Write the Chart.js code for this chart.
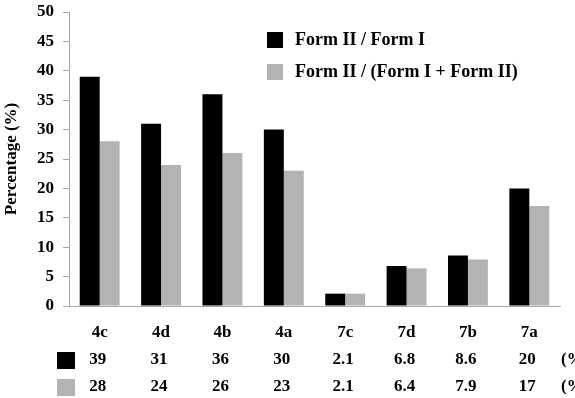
<!DOCTYPE html>
<html>
<head>
<meta charset="utf-8">
<script src="https://cdn.jsdelivr.net/npm/chart.js@4"></script>
<style>
  html, body { margin: 0; padding: 0; background: #fff; }
  #wrap { width: 575px; height: 398px; }
</style>
</head>
<body>
<div id="wrap"><canvas id="cv" width="575" height="398"></canvas></div>
<script>
// chart values
const categories = ['4c', '4d', '4b', '4a', '7c', '7d', '7b', '7a'];
const ratioI = [39, 31, 36, 30, 2.1, 6.8, 8.6, 20];       // Form II / Form I
const ratioTotal = [28, 24, 26, 23, 2.1, 6.4, 7.9, 17];   // Form II / (Form I + Form II)
const seriesNames = ['Form II / Form I', 'Form II / (Form I + Form II)'];
const yTicks = [0, 5, 10, 15, 20, 25, 30, 35, 40, 45, 50];

const FONT = '"Liberation Serif", "Times New Roman", serif';
const black = '#000000';
const grey = '#b3b3b3';
const axisGrey = '#a6a6a6';

// legend drawn inside the plot, top right
const legendPlugin = {
  id: 'boxLegend',
  afterDraw(chart) {
    const ctx = chart.ctx;
    const cols = [black, grey];
    ctx.save();
    ctx.font = 'bold 18px ' + FONT;
    ctx.textBaseline = 'middle';
    ctx.textAlign = 'left';
    for (let i = 0; i < seriesNames.length; i++) {
      const y = 40 + i * 32;
      ctx.fillStyle = cols[i];
      ctx.fillRect(267, y - 8, 16, 16);
      ctx.fillStyle = '#000';
      ctx.fillText(seriesNames[i], 295, y);
    }
    ctx.restore();
  }
};

// data table under the axis
const tablePlugin = {
  id: 'dataTable',
  afterDraw(chart) {
    const ctx = chart.ctx;
    const x = chart.scales.x;
    const rows = [ratioI, ratioTotal];
    const cols = [black, grey];
    ctx.save();
    ctx.font = 'bold 17px ' + FONT;
    ctx.textBaseline = 'middle';
    for (let r = 0; r < rows.length; r++) {
      const y = 360 + r * 27;
      ctx.fillStyle = cols[r];
      ctx.fillRect(57, y - 8, 18, 17);
      ctx.fillStyle = '#000';
      ctx.textAlign = 'center';
      rows[r].forEach((v, i) => {
        ctx.fillText(String(v), x.getPixelForValue(i) - 2, y);
      });
      ctx.textAlign = 'left';
      ctx.fillText('(%)', 561, y);
    }
    ctx.restore();
  }
};

new Chart(document.getElementById('cv'), {
  type: 'bar',
  data: {
    labels: categories,
    datasets: [{
      label: seriesNames[0],
      data: ratioI,
      backgroundColor: black,
      borderColor: black,
      borderWidth: 0,
      categoryPercentage: 0.65,
      barPercentage: 1.0
    }, {
      label: seriesNames[1],
      data: ratioTotal,
      backgroundColor: grey,
      borderWidth: 0,
      categoryPercentage: 0.65,
      barPercentage: 1.0
    }]
  },
  options: {
    responsive: false,
    animation: false,
    layout: { padding: { top: 12, right: 15, left: 0, bottom: 0 } },
    plugins: {
      legend: { display: false },
      tooltip: { enabled: false }
    },
    scales: {
      x: {
        grid: { drawOnChartArea: false, drawTicks: false },
        border: { display: true, color: axisGrey, width: 1 },
        ticks: { color: '#000', font: { family: FONT, size: 17, weight: 'bold' }, padding: 16 },
        afterFit(s) { s.height = 92; }
      },
      y: {
        min: 0,
        max: 50,
        afterBuildTicks(s) { s.ticks = yTicks.map(v => ({ value: v })); },
        grid: { drawOnChartArea: false, drawTicks: true, tickLength: 6, color: axisGrey },
        border: { display: true, color: axisGrey, width: 1 },
        ticks: { color: '#000', font: { family: FONT, size: 17, weight: 'bold' }, padding: 9 },
        title: {
          display: true,
          text: 'Percentage (%)',
          color: '#000',
          font: { family: FONT, size: 17, weight: 'bold' },
          padding: { top: 1, bottom: 0 }
        },
        afterFit(s) { s.width = 69; s.paddingTop = 0; s.paddingBottom = 0; }
      }
    }
  },
  plugins: [legendPlugin, tablePlugin]
});
</script>
</body>
</html>
